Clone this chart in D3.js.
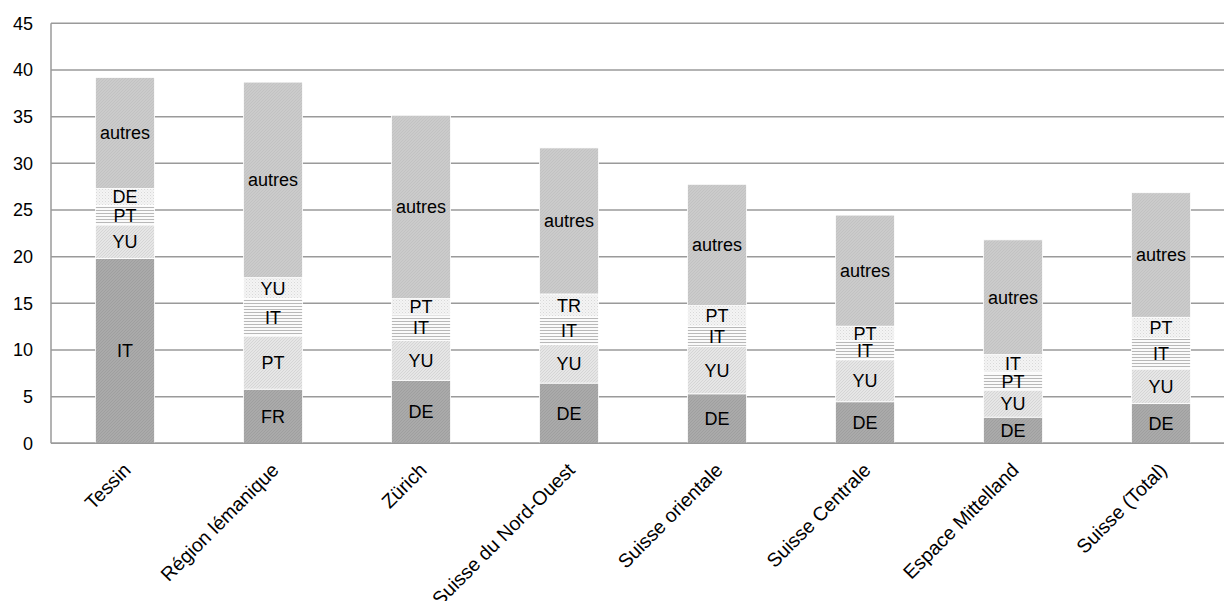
<!DOCTYPE html>
<html>
<head>
<meta charset="utf-8">
<script src="https://cdn.jsdelivr.net/npm/d3@7"></script>
<style>
  html, body { margin: 0; padding: 0; background: #fff; }
  svg { display: block; font-family: "Liberation Sans", Arial, sans-serif; }
</style>
</head>
<body>
<svg id="chart" width="1224" height="601"></svg>
<script>
// Régions et part des étrangers par nationalité (%), empilées
const categories = ["Tessin", "Région lémanique", "Zürich", "Suisse du Nord-Ouest",
  "Suisse orientale", "Suisse Centrale", "Espace Mittelland", "Suisse (Total)"];

// Segment 1 (base, foncé)
const seg1Values = [19.8, 5.8, 6.75, 6.45, 5.3, 4.45, 2.8, 4.25];
const seg1Labels = ["IT", "FR", "DE", "DE", "DE", "DE", "DE", "DE"];
// Segment 2 (hachures claires)
const seg2Values = [3.6, 5.7, 4.3, 4.15, 5.1, 4.5, 2.9, 3.7];
const seg2Labels = ["YU", "PT", "YU", "YU", "YU", "YU", "YU", "YU"];
// Segment 3 (lignes horizontales)
const seg3Values = [2.1, 4.0, 2.7, 2.95, 2.15, 2.05, 1.9, 3.3];
const seg3Labels = ["PT", "IT", "IT", "IT", "IT", "IT", "PT", "IT"];
// Segment 4 (pointillé clair)
const seg4Values = [1.8, 2.25, 1.75, 2.45, 2.2, 1.55, 1.9, 2.25];
const seg4Labels = ["DE", "YU", "PT", "TR", "PT", "PT", "IT", "PT"];
// Segment 5 (autres)
const seg5Values = [11.9, 20.95, 19.65, 15.65, 13.0, 11.9, 12.3, 13.35];
const seg5Labels = ["autres", "autres", "autres", "autres", "autres", "autres", "autres", "autres"];

const yTicks = [0, 5, 10, 15, 20, 25, 30, 35, 40, 45];

const segValues = [seg1Values, seg2Values, seg3Values, seg4Values, seg5Values];
const segLabels = [seg1Labels, seg2Labels, seg3Labels, seg4Labels, seg5Labels];
const keys = ["s1", "s2", "s3", "s4", "s5"];

const rows = categories.map((c, i) => {
  const r = { cat: c };
  keys.forEach((k, j) => r[k] = segValues[j][i]);
  return r;
});

const svg = d3.select("#chart");
const plotLeft = 51, plotTop = 23.3, plotBottom = 443.3, step = 148;

const y = d3.scaleLinear().domain([0, 45]).range([plotBottom, plotTop]);
const x = d3.scaleBand().domain(categories)
  .range([plotLeft, plotLeft + step * categories.length])
  .paddingInner(0.6).paddingOuter(0.3);

// Motifs de remplissage
const defs = svg.append("defs");
function diagPattern(id, base, line, size) {
  const p = defs.append("pattern").attr("id", id).attr("patternUnits", "userSpaceOnUse")
    .attr("width", size).attr("height", size);
  p.append("rect").attr("width", size).attr("height", size).attr("fill", base);
  p.append("path").attr("d", `M0,${size} L${size},0 M-1,1 L1,-1 M${size - 1},${size + 1} L${size + 1},${size - 1}`)
    .attr("stroke", line).attr("stroke-width", 0.8);
}
diagPattern("p1", "#aaaaaa", "#9c9c9c", 3);
diagPattern("p2", "#e6e6e6", "#d0d0d0", 3);
{
  const p = defs.append("pattern").attr("id", "p3").attr("patternUnits", "userSpaceOnUse")
    .attr("width", 4).attr("height", 3);
  p.append("rect").attr("width", 4).attr("height", 3).attr("fill", "#fafafa");
  p.append("rect").attr("y", 0).attr("width", 4).attr("height", 1).attr("fill", "#b8b8b8");
}
{
  const p = defs.append("pattern").attr("id", "p4").attr("patternUnits", "userSpaceOnUse")
    .attr("width", 3).attr("height", 3);
  p.append("rect").attr("width", 3).attr("height", 3).attr("fill", "#f4f4f4");
  p.append("rect").attr("x", 0).attr("y", 0).attr("width", 1).attr("height", 1).attr("fill", "#d8d8d8");
  p.append("rect").attr("x", 1.5).attr("y", 1.5).attr("width", 1).attr("height", 1).attr("fill", "#e0e0e0");
}
diagPattern("p5", "#cbcbcb", "#c0c0c0", 3);
const fills = ["url(#p1)", "url(#p2)", "url(#p3)", "url(#p4)", "url(#p5)"];

// Grille horizontale
svg.append("g").selectAll("line").data(yTicks).join("line")
  .attr("x1", plotLeft).attr("x2", 1224)
  .attr("y1", d => y(d)).attr("y2", d => y(d))
  .attr("stroke", "#9a9a9a").attr("stroke-width", 1.5);

// Axe vertical
svg.append("line").attr("x1", plotLeft).attr("x2", plotLeft)
  .attr("y1", y(45)).attr("y2", y(0))
  .attr("stroke", "#9a9a9a").attr("stroke-width", 1.5);

// Graduations Y
const yAxis = d3.axisLeft(y).tickValues(yTicks).tickSize(0).tickPadding(18);
const ya = svg.append("g").attr("transform", `translate(${plotLeft},0)`).call(yAxis);
ya.select(".domain").remove();
ya.selectAll("text").attr("font-size", 18).attr("fill", "#000")
  .attr("font-family", "'Liberation Sans', Arial, sans-serif");

// Barres empilées
const stacked = d3.stack().keys(keys)(rows);
const bw = x.bandwidth();
stacked.forEach((layer, j) => {
  const g = svg.append("g");
  g.selectAll("rect").data(layer).join("rect")
    .attr("x", d => x(d.data.cat))
    .attr("y", d => y(d[1]))
    .attr("width", bw)
    .attr("height", d => y(d[0]) - y(d[1]))
    .attr("fill", fills[j])
    .attr("stroke", "#fff").attr("stroke-width", 0.8);
});

// Étiquettes des segments
stacked.forEach((layer, j) => {
  svg.append("g").selectAll("text").data(layer).join("text")
    .attr("x", d => x(d.data.cat) + bw / 2)
    .attr("y", d => (y(d[0]) + y(d[1])) / 2)
    .attr("text-anchor", "middle")
    .attr("dy", "0.36em")
    .attr("font-size", 18)
    .attr("fill", "#000")
    .text((d, i) => segLabels[j][i]);
});

// Axe des catégories
svg.append("line").attr("x1", plotLeft).attr("x2", 1224)
  .attr("y1", y(0)).attr("y2", y(0))
  .attr("stroke", "#9a9a9a").attr("stroke-width", 1.5);

svg.append("g").selectAll("text").data(categories).join("text")
  .attr("transform", d => `translate(${x(d) + bw / 2 + 7},${plotBottom + 28}) rotate(-45)`)
  .attr("text-anchor", "end")
  .attr("font-size", 19.5)
  .attr("fill", "#000")
  .text(d => d);
</script>
</body>
</html>
